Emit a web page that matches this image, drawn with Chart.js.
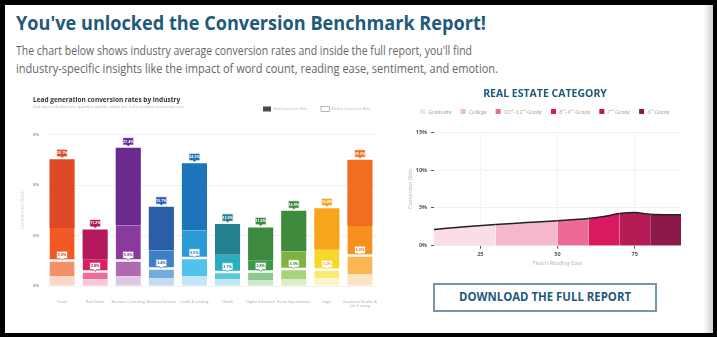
<!DOCTYPE html>
<html>
<head>
<meta charset="utf-8">
<script src="https://cdn.jsdelivr.net/npm/chart.js@4.4.0/dist/chart.umd.min.js"></script>
<style>
  html, body { margin: 0; padding: 0; }
  body { width: 717px; height: 337px; background: #000; position: relative; overflow: hidden; font-family: 'Open Sans', sans-serif; }
  #panel { position: absolute; left: 5px; top: 5px; width: 708px; height: 328px; background: #fff; }
  #shade { position: absolute; left: 703px; top: 5px; width: 10px; height: 328px; background: linear-gradient(to right, rgba(0,0,0,0), rgba(0,0,0,0.18)); }
  .fit { position: absolute; white-space: nowrap; transform-origin: 0 0; }
  #title { left: 16px; top: 14px; font-size: 19px; line-height: 19px; font-weight: 700; color: #1f5a7a; }
  .para { left: 16px; font-size: 12px; line-height: 17px; color: #666; }
  #line1 { top: 42px; }
  #line2 { top: 60px; }
  #leftChart { position: absolute; left: 18px; top: 88px; }
  #rightChart { position: absolute; left: 395px; top: 82px; }
  #button { position: absolute; left: 433px; top: 283px; width: 224px; height: 29px; box-sizing: border-box; border: 2px solid #7397ae; }
  #buttonText { left: 459px; top: 289px; font-size: 12px; line-height: 16px; font-weight: 700; color: #1f5a7a; }
</style>
</head>
<body>
<div id="panel"></div>
<div id="shade"></div>
<div id="title" class="fit" data-w="470">You've unlocked the Conversion Benchmark Report!</div>
<div id="line1" class="fit para" data-w="456">The chart below shows industry average conversion rates and inside the full report, you'll find</div>
<div id="line2" class="fit para" data-w="482">industry-specific insights like the impact of word count, reading ease, sentiment, and emotion.</div>
<canvas id="leftChart" width="367" height="232"></canvas>
<canvas id="rightChart" width="296" height="190"></canvas>
<div id="button"></div>
<div id="buttonText" class="fit" data-w="172">DOWNLOAD THE FULL REPORT</div>
<script>
// --- lead generation chart data (percent) ---
const industries = ['Travel', 'Real Estate', 'Business Consulting', 'Business Services', 'Credit & Lending',
    'Health', 'Higher Education', 'Home Improvement', 'Legal', ['Vocational Studies &', 'Job Training']];
const realRate      = [25.1, 11.2, 27.4, 15.7, 24.3, 12.3, 11.6, 14.9, 15.4, 25.0];
const upperQuartile = [11.5, 5.2, 12.0, 7.1, 11.0, 6.2, 5.0, 6.9, 7.2, 11.9];
const medianRate    = [5.0, 2.8, 5.0, 3.4, 5.5, 2.7, 2.8, 3.3, 3.2, 6.0];
const lowerQuartile = [2.0, 1.3, 1.9, 1.5, 2.0, 1.3, 1.2, 1.4, 1.5, 2.4];
const rateTicks     = [0, 10, 20, 30];

// --- real estate chart data ---
const readingEase  = [10, 20, 30, 40, 50, 60, 65, 70, 75, 80, 85, 90];
const reConversion = [2.15, 2.5, 2.8, 3.05, 3.3, 3.6, 3.85, 4.25, 4.4, 4.15, 4.1, 4.1];
const gradeNames   = ['Graduate', 'College', '10ᵗʰ-12ᵗʰ Grade', '8ᵗʰ-9ᵗʰ Grade', '7ᵗʰ Grade', '6ᵗʰ Grade'];
const gradeStart   = [10, 30, 50, 60, 70, 80];
const easeTicks    = [25, 50, 75];

// colours per industry, darkest segment first
const topColors   = ['#de4a26', '#b3195b', '#6b2a8e', '#2c5da9', '#1d74bb', '#24808d', '#3c893f', '#3f8a3d', '#f7a51c', '#f06d22'];
const upperColors = ['#f15a24', '#dc1b64', '#8a3a9c', '#3d80c3', '#2b9bd7', '#2aaebf', '#3a9a45', '#7cb342', '#f8d62c', '#f7901f'];
const lowerColors = ['#f58f6a', '#ef6c98', '#b06bb0', '#70acdf', '#52c1ec', '#5ac7d9', '#8dc98f', '#a9d27d', '#f9ea76', '#fbb652'];
const baseColors  = ['#fbd6c8', '#f8c6d7', '#e0c8e2', '#c4dcf1', '#c2e8f8', '#bde8f0', '#cde8cd', '#dcedc8', '#fdf5c8', '#fde3c5'];
const gradeColors = ['#fadde8', '#f5b8cf', '#ec6a93', '#d91a60', '#b51c55', '#8b1a4b'];

// squeeze html text to the width it has in the picture
document.querySelectorAll('.fit').forEach(function(el) {
    const w = parseFloat(el.dataset.w);
    el.style.transform = 'scaleX(' + (w / el.getBoundingClientRect().width) + ')';
});

function span(lo, hi) {
    return lo.map(function(v, i) { return [v, hi[i]]; });
}

function drawTag(ctx, cx, tipY, fill, edge, ink, text) {
    const w = 11, h = 7.5, bottom = tipY - 1.6, top = bottom - h;
    ctx.beginPath();
    ctx.moveTo(cx - w / 2, top);
    ctx.lineTo(cx + w / 2, top);
    ctx.lineTo(cx + w / 2, bottom);
    ctx.lineTo(cx + 1.6, bottom);
    ctx.lineTo(cx, tipY);
    ctx.lineTo(cx - 1.6, bottom);
    ctx.lineTo(cx - w / 2, bottom);
    ctx.closePath();
    ctx.fillStyle = fill;
    ctx.fill();
    ctx.strokeStyle = edge;
    ctx.lineWidth = 0.8;
    ctx.stroke();
    ctx.fillStyle = ink;
    ctx.fillText(text, cx, top + h / 2 + 0.2);
}

// value tags: real rate above bar, median on the white line
const barTags = {
    id: 'barTags',
    afterDatasetsDraw(chart) {
        const {ctx, scales: {x, y}} = chart;
        ctx.save();
        ctx.font = 'bold 3.6px "Open Sans"';
        ctx.textAlign = 'center';
        ctx.textBaseline = 'middle';
        industries.forEach(function(_, i) {
            const cx = x.getPixelForValue(i);
            drawTag(ctx, cx, y.getPixelForValue(realRate[i]) - 1, topColors[i], '#fff', '#fff', realRate[i].toFixed(1) + '%');
            drawTag(ctx, cx, y.getPixelForValue(medianRate[i]) - 0.5, '#fff', upperColors[i], topColors[i], medianRate[i].toFixed(1) + '%');
        });
        ctx.restore();
    }
};

// small legend on the subtitle row
const rateLegend = {
    id: 'rateLegend',
    afterDraw(chart) {
        const ctx = chart.ctx;
        ctx.save();
        ctx.fillStyle = '#4a4a4a';
        ctx.fillRect(245, 18.5, 8, 5);
        ctx.fillStyle = '#fff';
        ctx.strokeStyle = '#999';
        ctx.lineWidth = 0.7;
        ctx.fillRect(303, 18.5, 8.5, 5);
        ctx.strokeRect(303, 18.5, 8.5, 5);
        ctx.font = '3.4px "Open Sans"';
        ctx.fillStyle = '#b5b5b5';
        ctx.textBaseline = 'middle';
        ctx.fillText('Real Conversion Rate', 255.5, 21);
        ctx.fillText('Median Conversion Rate', 313.5, 21);
        ctx.restore();
    }
};

new Chart(document.getElementById('leftChart'), {
    type: 'bar',
    data: {
        labels: industries,
        datasets: [
            { data: lowerQuartile.map(function(v) { return [0, v]; }), backgroundColor: baseColors },
            { data: span(lowerQuartile, medianRate), backgroundColor: lowerColors,
              borderColor: '#fff', borderWidth: {top: 1, right: 0, bottom: 0, left: 0} },
            { data: span(medianRate, upperQuartile), backgroundColor: upperColors,
              borderColor: '#fff', borderWidth: {top: 0, right: 0, bottom: 1.5, left: 0} },
            { data: span(upperQuartile, realRate), backgroundColor: topColors }
        ]
    },
    options: {
        responsive: false,
        animation: false,
        datasets: {
            bar: { categoryPercentage: 0.76, barPercentage: 1, borderSkipped: false }
        },
        layout: { padding: { top: 8, left: 15, right: 8.5, bottom: 0 } },
        plugins: {
            legend: { display: false },
            tooltip: { enabled: false },
            title: {
                display: true,
                align: 'start',
                text: 'Lead generation conversion rates by industry',
                color: '#333',
                font: { family: 'Open Sans', size: 6.5, weight: 'bold' },
                padding: { top: 0, bottom: 0 }
            },
            subtitle: {
                display: true,
                align: 'start',
                text: 'Each bar is divided into quartiles and the white line is the median conversion rate.',
                color: '#b0b0b0',
                font: { family: 'Open Sans', size: 4 },
                padding: { top: 1, bottom: 25 }
            }
        },
        scales: {
            x: {
                stacked: true,
                grid: { display: false },
                border: { display: false },
                ticks: {
                    autoSkip: false,
                    maxRotation: 0,
                    padding: 5.5,
                    color: '#aaa',
                    font: { family: 'Open Sans', size: 3.6 }
                },
                afterFit: function(s) { s.height = 34; }
            },
            y: {
                min: 0,
                max: 30,
                afterBuildTicks: function(s) { s.ticks = rateTicks.map(function(v) { return { value: v }; }); },
                grid: { color: '#f1f1f1', drawTicks: false },
                border: { display: false },
                ticks: {
                    padding: 6.5,
                    color: '#999',
                    font: { family: 'Open Sans', size: 4, weight: 'bold' },
                    callback: function(v) { return v + '%'; }
                },
                title: {
                    display: true,
                    text: 'Conversion Rate',
                    color: '#d0d0d0',
                    font: { family: 'Open Sans', size: 5 },
                    padding: { top: -13, bottom: 0 }
                },
                afterFit: function(s) { s.width = 12.5; }
            }
        }
    },
    plugins: [barTags, rateLegend]
});

function gradeOf(x) {
    let k = 0;
    gradeStart.forEach(function(s, i) { if (x >= s) k = i; });
    return k;
}

new Chart(document.getElementById('rightChart'), {
    type: 'line',
    data: {
        datasets: [{
            label: 'Real Estate',
            data: readingEase.map(function(x, i) { return { x: x, y: reConversion[i] }; }),
            borderColor: '#222',
            borderWidth: 1.5,
            pointRadius: 0,
            fill: 'origin',
            backgroundColor: gradeColors[0],
            cubicInterpolationMode: 'monotone',
            segment: {
                backgroundColor: function(ctx) { return gradeColors[gradeOf(ctx.p0.parsed.x)]; }
            }
        }]
    },
    options: {
        responsive: false,
        animation: false,
        layout: { padding: { top: 0, left: 14, right: 10, bottom: 0 } },
        plugins: {
            tooltip: { enabled: false },
            title: {
                display: true,
                text: 'REAL ESTATE CATEGORY',
                color: '#1f5a7a',
                font: { family: 'Open Sans', size: 10.5, weight: 'bold' },
                padding: { top: 6, bottom: -1 }
            },
            legend: {
                display: true,
                onClick: null,
                labels: {
                    boxWidth: 5,
                    boxHeight: 5,
                    padding: 9,
                    color: '#aaa',
                    font: { family: 'Lato', size: 6, style: 'italic' },
                    generateLabels: function() {
                        return gradeNames.map(function(name, i) {
                            return {
                                text: name,
                                fillStyle: gradeColors[i],
                                strokeStyle: gradeColors[i],
                                lineWidth: 0,
                                hidden: false,
                                fontColor: '#aaa',
                                index: i
                            };
                        });
                    }
                }
            },
            // empty row: gap between legend and plot
            subtitle: {
                display: true,
                text: '',
                weight: 500,
                font: { size: 1 },
                padding: { top: 0, bottom: 6.4 }
            }
        },
        scales: {
            x: {
                type: 'linear',
                min: 10,
                max: 90,
                afterBuildTicks: function(s) { s.ticks = easeTicks.map(function(v) { return { value: v }; }); },
                grid: { color: '#ececec', tickColor: '#555', tickLength: 3 },
                border: { display: false, dash: [2, 2] },
                ticks: {
                    padding: 2.5,
                    color: '#555',
                    font: { family: 'Open Sans', size: 5.5, weight: 'bold' }
                },
                title: {
                    display: true,
                    text: 'Flesch Reading Ease',
                    color: '#bbb',
                    font: { family: 'Lato', size: 6, style: 'italic' },
                    padding: { top: 0, bottom: 5.7 }
                },
                afterFit: function(s) { s.height = 26.3; }
            },
            y: {
                min: 0,
                max: 15,
                ticks: {
                    stepSize: 5,
                    padding: 4,
                    color: '#555',
                    font: { family: 'Open Sans', size: 5.5, weight: 'bold' },
                    callback: function(v) { return v + '%'; }
                },
                grid: { color: '#f2f2f2', tickColor: '#555', tickLength: 3 },
                border: { display: false },
                title: {
                    display: true,
                    text: 'Conversion Rate',
                    color: '#bbb',
                    font: { family: 'Lato', size: 6, style: 'italic' },
                    padding: { top: -2.6, bottom: 0 }
                },
                afterFit: function(s) { s.width = 25; }
            }
        }
    }
});
</script>
</body>
</html>
